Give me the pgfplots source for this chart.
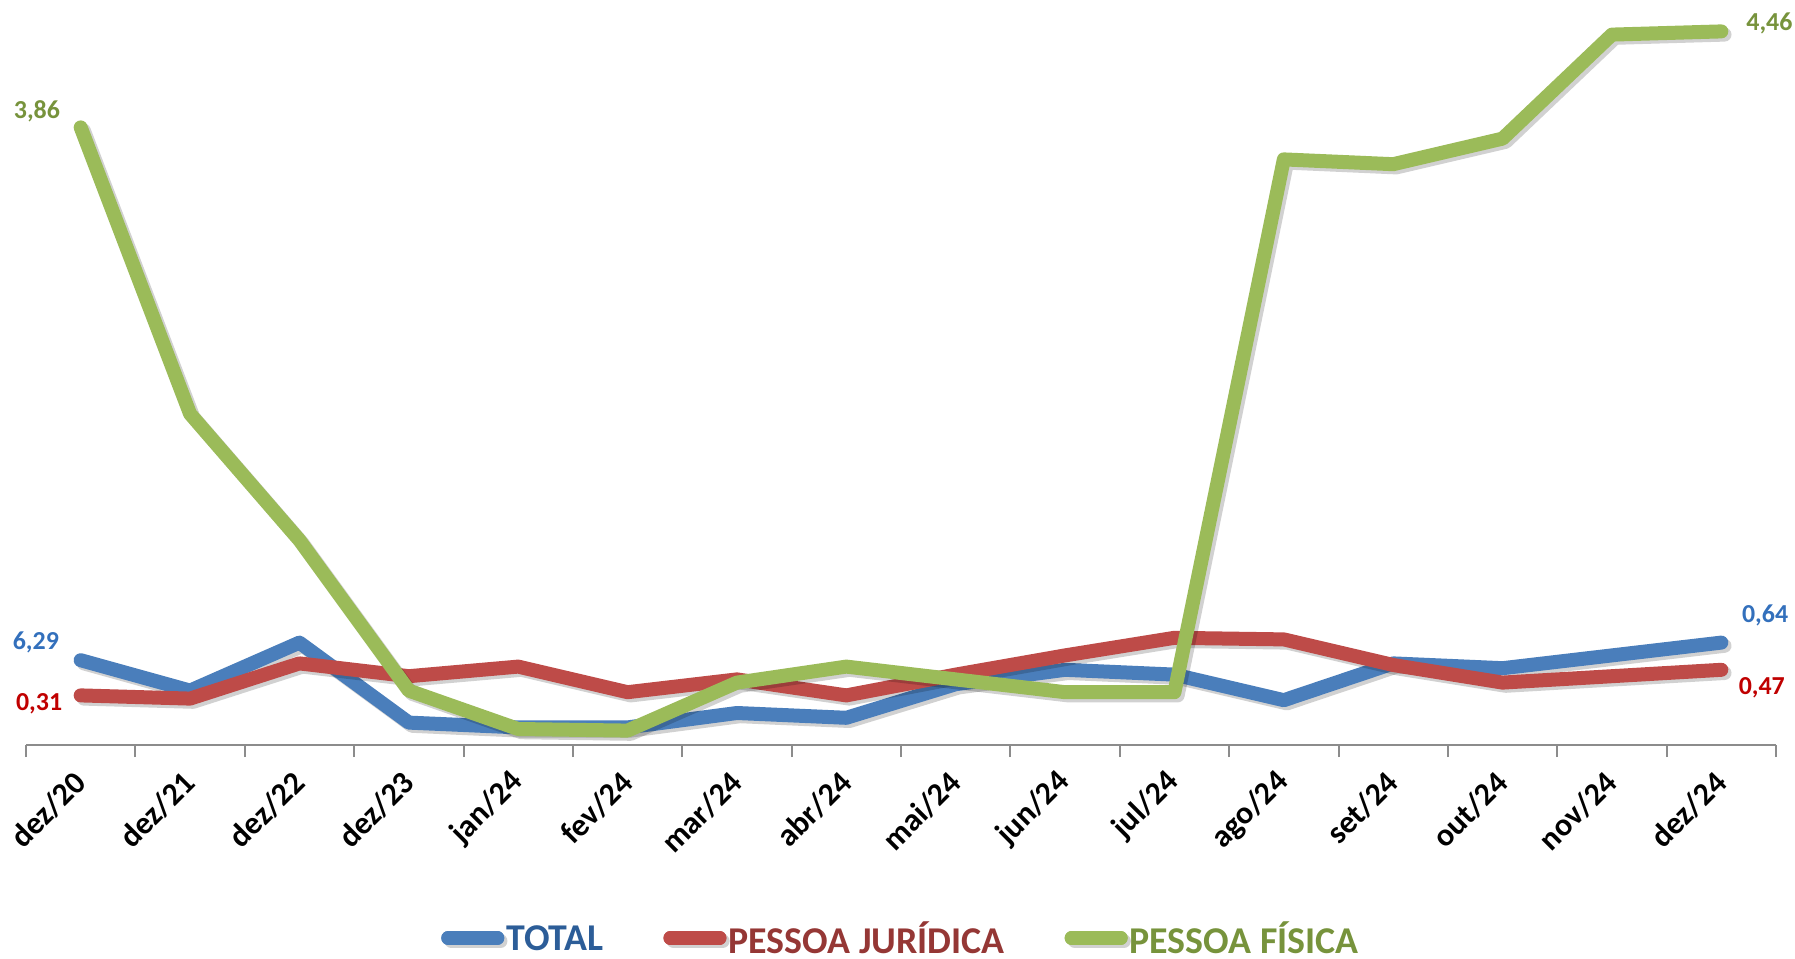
\documentclass[border=0pt]{standalone}
\usepackage{pgfplots}
\usepackage{pgfplotstable}
\pgfplotsset{compat=1.18}
\usepackage{fontspec}
\setmainfont{Carlito}
\definecolor{cTot}{HTML}{4A7EBB}
\definecolor{cPJ}{HTML}{BE4B48}
\definecolor{cPF}{HTML}{9BBB59}
\definecolor{tTot}{HTML}{2C5D98}
\definecolor{tPJ}{HTML}{953735}
\definecolor{tPF}{HTML}{77933C}
\definecolor{lTot}{HTML}{3370BC}
\definecolor{lPJ}{HTML}{C00000}
\definecolor{axc}{HTML}{8C8C8C}

\pgfplotstableread{
x y
0 0.53
1 0.34
2 0.64
3 0.14
4 0.11
5 0.11
6 0.20
7 0.17
8 0.38
9 0.47
10 0.44
11 0.28
12 0.51
13 0.48
14 0.56
15 0.64
}\tot
\pgfplotstableread{
x y
0 0.31
1 0.29
2 0.51
3 0.43
4 0.49
5 0.33
6 0.41
7 0.31
8 0.44
9 0.56
10 0.67
11 0.66
12 0.50
13 0.39
14 0.43
15 0.47
}\pj
\pgfplotstableread{
x y
0 3.86
1 2.07
2 1.28
3 0.34
4 0.10
5 0.09
6 0.39
7 0.49
8 0.41
9 0.33
10 0.33
11 3.66
12 3.63
13 3.79
14 4.44
15 4.46
}\pf

\begin{document}
\begin{tikzpicture}[
  serie/.style={line width=7bp, line cap=round, line join=round,
    preaction={draw=black, draw opacity=0.18, line width=7bp, line cap=round, line join=round,
      transform canvas={xshift=1.6bp, yshift=-1.6bp}}}
]
\begin{axis}[
  at={(0,0)}, anchor=south west,
  scale only axis, width=875bp, height=360bp,
  xmin=-0.5, xmax=15.5, ymin=0, ymax=4.5,
  clip=false,
  axis x line*=bottom,
  hide y axis,
  axis line style={draw=axc, line width=1bp},
  xtick={0,...,15},
  xticklabels={dez/20, dez/21, dez/22, dez/23, jan/24, fev/24, mar/24, abr/24, mai/24, jun/24, jul/24, ago/24, set/24, out/24, nov/24, dez/24},
  major tick length=0pt,
  minor xtick={-0.5,0.5,...,15.5},
  minor tick length=6bp,
  tick align=outside,
  minor tick style={draw=axc, line width=1bp},
  x tick label style={font=\fontsize{16}{18}\selectfont\bfseries, inner sep=0pt, yshift=-16bp, xshift=0bp, rotate=45, anchor=east},
  legend columns=3,
  legend cell align=left,
  legend style={at={(0.5,-0.268)}, anchor=center, draw=none, fill=none,
    font=\fontsize{19}{21}\selectfont\bfseries,
    /tikz/every even column/.append style={column sep=29bp},
    /tikz/every odd column/.append style={column sep=0bp},
    nodes={inner sep=1bp, text depth=0pt}},
  legend image code/.code={\draw[#1, preaction={}, line width=7bp, line cap=round] (3.5bp,0bp) -- (28bp,0bp);},
]
\addplot[serie, draw=cTot] table {\tot};
\addlegendentry{\textcolor{tTot}{TOTAL}}
\addplot[serie, draw=cPJ] table {\pj};
\addlegendentry{\textcolor{tPJ}{PESSOA JURÍDICA}}
\addplot[serie, draw=cPF] table {\pf};
\addlegendentry{\textcolor{tPF}{PESSOA FÍSICA}}

\node[font=\fontsize{13}{15}\selectfont\bfseries, text=tPF] at (axis cs:-0.40,3.96) {3,86};
\node[font=\fontsize{13}{15}\selectfont\bfseries, text=lTot] at (axis cs:-0.41,0.64) {6,29};
\node[font=\fontsize{13}{15}\selectfont\bfseries, text=lPJ] at (axis cs:-0.38,0.26) {0,31};
\node[font=\fontsize{13}{15}\selectfont\bfseries, text=tPF] at (axis cs:15.44,4.51) {4,46};
\node[font=\fontsize{13}{15}\selectfont\bfseries, text=lTot] at (axis cs:15.40,0.81) {0,64};
\node[font=\fontsize{13}{15}\selectfont\bfseries, text=lPJ] at (axis cs:15.37,0.36) {0,47};
\end{axis}
\pgfresetboundingbox
\path[use as bounding box] (-13bp,-107bp) rectangle (884.5bp,372.5bp);
\end{tikzpicture}
\end{document}
